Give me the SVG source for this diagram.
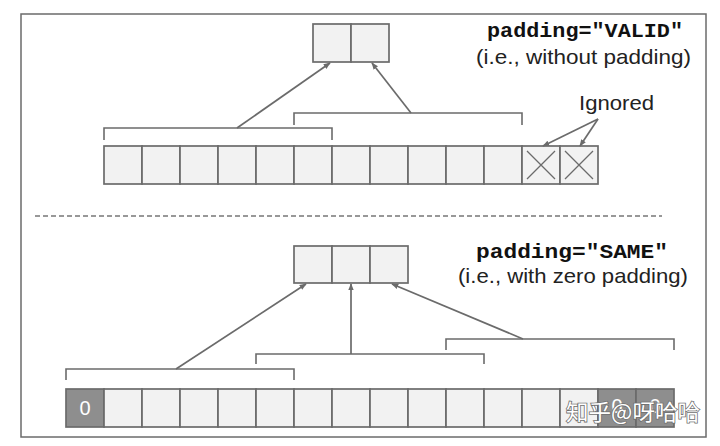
<svg xmlns="http://www.w3.org/2000/svg" width="720" height="446" viewBox="0 0 720 446">
<style>
.c{fill:#f2f2f2;stroke:#6b6b6b;stroke-width:1.7}
.d{fill:#8e8e8e;stroke:#6b6b6b;stroke-width:1.7}
.br{fill:none;stroke:#6b6b6b;stroke-width:1.6}
.ar{fill:none;stroke:#6b6b6b;stroke-width:1.7;marker-end:url(#ah)}
.x{stroke:#6b6b6b;stroke-width:1.3}
.mono{font-family:"Liberation Mono",monospace;font-weight:bold;font-size:21px;fill:#111}
.sans{font-family:"Liberation Sans",Arial,sans-serif;font-size:21px;fill:#222}
.z{font-family:"Liberation Sans",Arial,sans-serif;font-size:20px;fill:#fff;text-anchor:middle}
</style>
<defs>
<marker id="ah" viewBox="0 0 10 10" refX="9" refY="5" markerWidth="7" markerHeight="7" orient="auto" markerUnits="userSpaceOnUse">
<path d="M0,1 L10,5 L0,9 Z" fill="#6b6b6b"/>
</marker>
</defs>
<rect x="21" y="14" width="685" height="423" fill="#fff" stroke="#6b6b6b" stroke-width="1.5"/>
<line x1="35" y1="216" x2="662" y2="216" stroke="#777" stroke-width="1.3" stroke-dasharray="5,3"/>

<g id="valid-output">
<rect class="c" x="313" y="24" width="38" height="38"/>
<rect class="c" x="351" y="24" width="38" height="38"/>
</g>
<g id="valid-input">
<rect class="c" x="104" y="146" width="38" height="38"/>
<rect class="c" x="142" y="146" width="38" height="38"/>
<rect class="c" x="180" y="146" width="38" height="38"/>
<rect class="c" x="218" y="146" width="38" height="38"/>
<rect class="c" x="256" y="146" width="38" height="38"/>
<rect class="c" x="294" y="146" width="38" height="38"/>
<rect class="c" x="332" y="146" width="38" height="38"/>
<rect class="c" x="370" y="146" width="38" height="38"/>
<rect class="c" x="408" y="146" width="38" height="38"/>
<rect class="c" x="446" y="146" width="38" height="38"/>
<rect class="c" x="484" y="146" width="38" height="38"/>
<rect class="c" x="522" y="146" width="38" height="38"/>
<rect class="c" x="560" y="146" width="38" height="38"/>
<path class="x" d="M527,151 L555,179 M555,151 L527,179 M565,151 L593,179 M593,151 L565,179"/>
</g>
<g id="valid-labels">
<text class="mono" x="683" y="37" text-anchor="end" textLength="196" lengthAdjust="spacingAndGlyphs">padding="VALID"</text>
<text class="sans" x="691" y="64" text-anchor="end" textLength="215" lengthAdjust="spacingAndGlyphs">(i.e., without padding)</text>
<text class="sans" x="579" y="110" textLength="75" lengthAdjust="spacingAndGlyphs">Ignored</text>
</g>

<g id="same-output">
<rect class="c" x="294" y="246" width="38" height="37"/>
<rect class="c" x="332" y="246" width="38" height="37"/>
<rect class="c" x="370" y="246" width="38" height="37"/>
</g>
<g id="same-input">
<rect class="d" x="66" y="389" width="38" height="38"/>
<rect class="c" x="104" y="389" width="38" height="38"/>
<rect class="c" x="142" y="389" width="38" height="38"/>
<rect class="c" x="180" y="389" width="38" height="38"/>
<rect class="c" x="218" y="389" width="38" height="38"/>
<rect class="c" x="256" y="389" width="38" height="38"/>
<rect class="c" x="294" y="389" width="38" height="38"/>
<rect class="c" x="332" y="389" width="38" height="38"/>
<rect class="c" x="370" y="389" width="38" height="38"/>
<rect class="c" x="408" y="389" width="38" height="38"/>
<rect class="c" x="446" y="389" width="38" height="38"/>
<rect class="c" x="484" y="389" width="38" height="38"/>
<rect class="c" x="522" y="389" width="38" height="38"/>
<rect class="c" x="560" y="389" width="38" height="38"/>
<rect class="d" x="598" y="389" width="38" height="38"/>
<rect class="d" x="636" y="389" width="38" height="38"/>
<text class="z" x="85" y="415">0</text>
<text class="z" x="617" y="413">0</text>
<text class="z" x="655" y="413">0</text>
</g>
<g id="same-labels">
<text class="mono" x="668" y="258" text-anchor="end" textLength="192" lengthAdjust="spacingAndGlyphs">padding="SAME"</text>
<text class="sans" x="688" y="283" text-anchor="end" textLength="230" lengthAdjust="spacingAndGlyphs">(i.e., with zero padding)</text>
</g>

<g id="connectors">
<path class="br" d="M104,140 V128 H332 V140"/>
<path class="br" d="M294,125 V113 H522 V125"/>
<line class="ar" x1="237" y1="128" x2="330" y2="63"/>
<line class="ar" x1="411" y1="113" x2="372" y2="63"/>
<line class="ar" x1="598" y1="119" x2="543" y2="146"/>
<line class="ar" x1="598" y1="119" x2="580" y2="146"/>
<path class="br" d="M66,380 V369 H294 V380"/>
<path class="br" d="M256,364 V354 H484 V364"/>
<path class="br" d="M446,350 V339 H674 V350"/>
<line class="ar" x1="176" y1="369" x2="306" y2="284"/>
<line class="ar" x1="351" y1="354" x2="351" y2="284"/>
<line class="ar" x1="523" y1="339" x2="392" y2="284"/>
</g>

<g id="watermark">
<text x="566" y="420" font-family="'Noto Sans CJK SC',sans-serif" font-size="22" fill="#fff" stroke="#707070" stroke-width="1.6" paint-order="stroke" textLength="134" lengthAdjust="spacingAndGlyphs">知乎@呀哈哈</text>
</g>
</svg>
